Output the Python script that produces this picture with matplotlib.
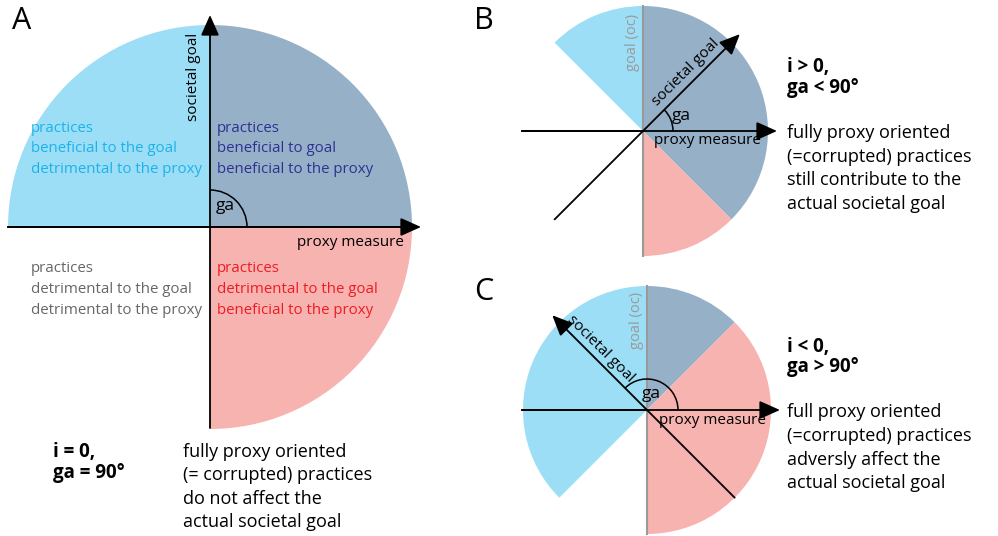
import numpy as np
import matplotlib.pyplot as plt
from matplotlib.patches import Wedge, Arc

plt.rcParams['font.family'] = ['Open Sans', 'DejaVu Sans']

# -----------------------------
# 1. Diagram content
# -----------------------------
# goal angle (ga) of the societal goal axis in each panel, degrees
ga_angles = [90, 45, 135]

# wedge boundaries (start, end, colour key) for each panel
wedges_A = [(0, 90, 'both'), (90, 180, 'goal'), (270, 360, 'proxy')]
wedges_B = [(-45, 90, 'both'), (90, 135, 'goal'), (270, 315, 'proxy')]
wedges_C = [(45, 90, 'both'), (90, 225, 'goal'), (270, 405, 'proxy')]

fill_colors = {'both': '#96b0c8', 'goal': '#9bdef6', 'proxy': '#f7b3b0'}

quadrant_text = {
    'goal': ['practices', 'beneficial to the goal', 'detrimental to the proxy'],
    'both': ['practices', 'beneficial to goal', 'beneficial to the proxy'],
    'none': ['practices', 'detrimental to the goal', 'detrimental to the proxy'],
    'proxy': ['practices', 'detrimental to the goal', 'beneficial to the proxy'],
}
quadrant_color = {'goal': '#1db2ec', 'both': '#2e3192', 'none': '#666666', 'proxy': '#ee1c25'}

cond_A = ['i = 0,', 'ga = 90°']
cond_B = ['i > 0,', 'ga < 90°']
cond_C = ['i < 0,', 'ga > 90°']
desc_A = ['fully proxy oriented', '(= corrupted) practices', 'do not affect the', 'actual societal goal']
desc_B = ['fully proxy oriented', '(=corrupted) practices', 'still contribute to the', 'actual societal goal']
desc_C = ['full proxy oriented', '(=corrupted) practices', 'adversly affect the', 'actual societal goal']

# -----------------------------
# 2. Canvas (pixel coordinates, y downwards)
# -----------------------------
W, H = 998, 536
fig = plt.figure(figsize=(W / 100, H / 100), dpi=100)
ax = fig.add_axes([0, 0, 1, 1])
ax.set_xlim(0, W)
ax.set_ylim(H, 0)
ax.set_aspect('equal')
ax.axis('off')

fs_body = 13
fs_bold = 13.5


def arrow(x0, y0, x1, y1):
    ax.annotate('', xy=(x1, y1), xytext=(x0, y0),
                arrowprops=dict(arrowstyle='-|>,head_length=0.9,head_width=0.4',
                                mutation_scale=14, lw=1.3, color='black',
                                shrinkA=0, shrinkB=0))


def pol(cx, cy, r, ang):
    a = np.deg2rad(ang)
    return cx + r * np.cos(a), cy - r * np.sin(a)


def draw_wedges(cx, cy, r, wedges):
    # y axis is inverted, so angles are mirrored
    for t1, t2, key in wedges:
        ax.add_patch(Wedge((cx, cy), r, -t2, -t1, facecolor=fill_colors[key],
                           edgecolor='none', zorder=1))


def ga_arc(cx, cy, r, ga):
    ax.add_patch(Arc((cx, cy), 2 * r, 2 * r, theta1=-ga, theta2=0,
                     color='black', lw=1.1, zorder=3))


# -----------------------------
# 3. Panel A
# -----------------------------
cx, cy, R = 210, 227, 202
draw_wedges(cx, cy, R, wedges_A)
ax.plot([8, 412], [cy, cy], color='black', lw=1.3, zorder=2)
arrow(8, cy, 421, cy)
arrow(cx, 428, cx, 15)
ga_arc(cx, cy, 37, ga_angles[0])
ax.text(225, 206, 'ga', fontsize=12.5, ha='center', va='center')
ax.text(194, 77, 'societal goal', fontsize=11, rotation=90, ha='center', va='center')
ax.text(404, 243, 'proxy measure', fontsize=11, ha='right', va='center')

fs_q = 10.8
for key, (x, y0) in {'goal': (31, 128), 'both': (217, 128),
                     'none': (31, 269), 'proxy': (217, 269)}.items():
    for k, line in enumerate(quadrant_text[key]):
        ax.text(x, y0 + 20.8 * k, line, fontsize=fs_q, color=quadrant_color[key],
                ha='left', va='center')

for k, line in enumerate(cond_A):
    ax.text(53, 452 + 21 * k, line, fontsize=fs_bold, fontweight='bold', ha='left', va='center')
for k, line in enumerate(desc_A):
    ax.text(183, 452 + 23.4 * k, line, fontsize=fs_body, ha='left', va='center')

ax.text(12, 21, 'A', fontsize=22, ha='left', va='center')

# -----------------------------
# 4. Panel B
# -----------------------------
cx, cy, R = 643, 131, 125
draw_wedges(cx, cy, R, wedges_B)
ax.plot([cx, cx], [cy - R, cy + R], color='#9a9a9a', lw=1.5, zorder=2)
ax.plot([522, cx], [cy, cy], color='black', lw=1.3, zorder=2)
arrow(522, cy, 777, cy)
x0, y0 = pol(cx, cy, 125, ga_angles[1] + 180)
x1, y1 = pol(cx, cy, 137, ga_angles[1])
arrow(x0, y0, x1, y1)
ga_arc(cx, cy, 30, ga_angles[1])
ax.text(681, 116, 'ga', fontsize=12.5, ha='center', va='center')
ax.text(633, 42, 'goal (oc)', fontsize=10.5, color='#9a9a9a', rotation=90, ha='center', va='center')
ax.text(686, 72, 'societal goal', fontsize=11, rotation=45, ha='center', va='center',
        rotation_mode='anchor')
ax.text(708, 140, 'proxy measure', fontsize=11, ha='center', va='center')

for k, line in enumerate(cond_B):
    ax.text(787, 67 + 21 * k, line, fontsize=fs_bold, fontweight='bold', ha='left', va='center')
for k, line in enumerate(desc_B):
    ax.text(787, 133 + 23.6 * k, line, fontsize=fs_body, ha='left', va='center')

ax.text(474, 21, 'B', fontsize=22, ha='left', va='center')

# -----------------------------
# 5. Panel C
# -----------------------------
cx, cy, R = 647, 410, 124
draw_wedges(cx, cy, R, wedges_C)
ax.plot([cx, cx], [cy - R, cy + R], color='#9a9a9a', lw=1.5, zorder=2)
ax.plot([522, cx], [cy, cy], color='black', lw=1.3, zorder=2)
arrow(522, cy, 780, cy)
x0, y0 = pol(cx, cy, 124, ga_angles[2] + 180)
x1, y1 = pol(cx, cy, 134, ga_angles[2])
arrow(x0, y0, x1, y1)
ga_arc(cx, cy, 31, ga_angles[2])
ax.text(651, 394, 'ga', fontsize=12.5, ha='center', va='center')
ax.text(637, 320, 'goal (oc)', fontsize=10.5, color='#9a9a9a', rotation=90, ha='center', va='center')
ax.text(601, 349, 'societal goal', fontsize=11, rotation=-45, ha='center', va='center',
        rotation_mode='anchor')
ax.text(713, 420, 'proxy measure', fontsize=11, ha='center', va='center')

for k, line in enumerate(cond_C):
    ax.text(787, 347 + 20 * k, line, fontsize=fs_bold, fontweight='bold', ha='left', va='center')
for k, line in enumerate(desc_C):
    ax.text(787, 412 + 23.8 * k, line, fontsize=fs_body, ha='left', va='center')

ax.text(474, 292, 'C', fontsize=22, ha='left', va='center')

fig.savefig('out.png', dpi=100)
